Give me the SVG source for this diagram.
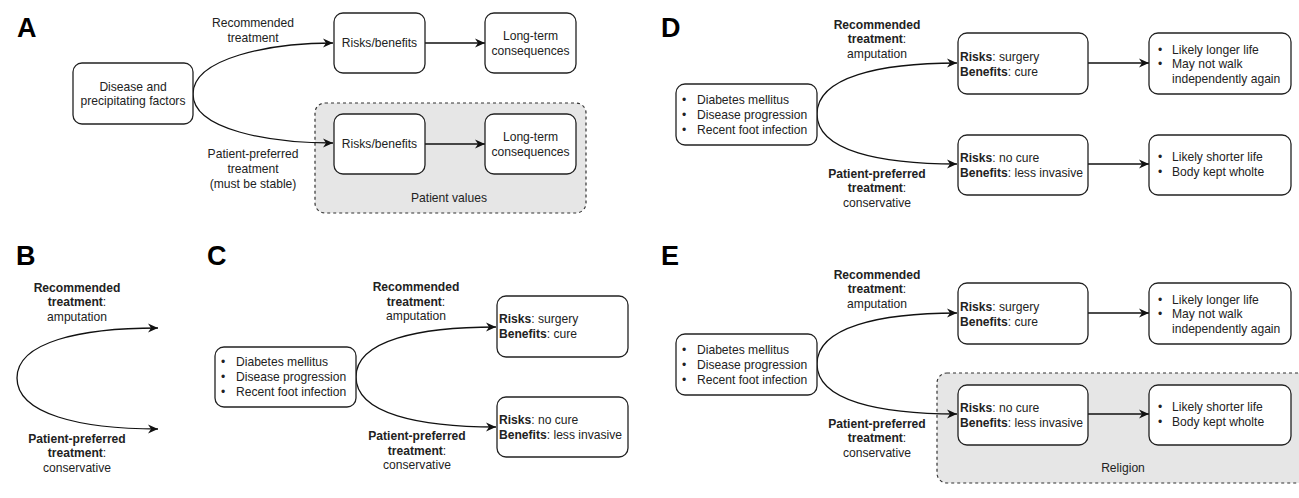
<svg xmlns="http://www.w3.org/2000/svg" width="1299" height="498" viewBox="0 0 1299 498">
<style>
text{font-family:"Liberation Sans",Arial,sans-serif;font-size:12.1px;fill:#222}
.lbl{font-size:27px;font-weight:bold;fill:#000}
.c{text-anchor:middle}
.b{font-weight:bold}
.box{fill:#fff;stroke:#222;stroke-width:1.3}
.grp{fill:#e6e6e6;stroke:#333;stroke-width:1.2;stroke-dasharray:3,3}
.edge{fill:none;stroke:#111;stroke-width:1.3;marker-end:url(#ah)}
</style>
<defs>
<marker id="ah" markerUnits="userSpaceOnUse" markerWidth="12" markerHeight="10" refX="10" refY="5" orient="auto">
<path d="M0,0.5 L10,5 L0,9.5 L3,5 Z" fill="#111"/>
</marker>
</defs>
<rect width="1299" height="498" fill="#fff"/>

<!-- panel labels -->
<text class="lbl" x="17" y="37">A</text>
<text class="lbl" x="16" y="265">B</text>
<text class="lbl" x="207" y="265">C</text>
<text class="lbl" x="661" y="37">D</text>
<text class="lbl" x="661" y="265">E</text>

<!-- group boxes -->
<g id="patient-values">
<rect class="grp" x="315" y="103" width="271" height="110" rx="10"/>
<text class="c" x="449" y="202">Patient values</text>
</g>
<g id="religion">
<rect class="grp" x="937" y="373" width="380" height="110" rx="10"/>
<text class="c" x="1123" y="472">Religion</text>
</g>

<!-- connectors -->
<g id="connectors">
<path class="edge" d="M193,94 C193,58 270,43 333,43"/>
<path class="edge" d="M193,94 C193,130 270,143 333,143"/>
<path class="edge" d="M425,43 L485,43"/>
<path class="edge" d="M425,144 L485,144"/>
<path class="edge" d="M17,378 C17,342 80,328 158,328"/>
<path class="edge" d="M17,378 C17,414 80,429 158,429"/>
<path class="edge" d="M356,377 C356,340 420,327 496,327"/>
<path class="edge" d="M356,377 C356,414 420,427 496,427"/>
<path class="edge" d="M817,114 C817,77 880,63 957,63"/>
<path class="edge" d="M817,114 C817,151 880,164 957,164"/>
<path class="edge" d="M1088,63 L1149,63"/>
<path class="edge" d="M1088,164 L1149,164"/>
<path class="edge" d="M817,364 C817,327 880,313 957,313"/>
<path class="edge" d="M817,364 C817,401 880,414 957,414"/>
<path class="edge" d="M1088,313 L1149,313"/>
<path class="edge" d="M1088,414 L1149,414"/>
</g>

<!-- edge labels A -->
<g id="labels-A">
<text class="c" x="253" y="27">Recommended</text>
<text class="c" x="253" y="42">treatment</text>
<text class="c" x="253" y="158">Patient-preferred</text>
<text class="c" x="253" y="173">treatment</text>
<text class="c" x="253" y="188">(must be stable)</text>
</g>

<!-- Panel A nodes -->
<g id="A-disease">
<rect class="box" x="73" y="63" width="120" height="61" rx="9"/>
<text class="c" x="133" y="91">Disease and</text>
<text class="c" x="133" y="105">precipitating factors</text>
</g>
<g id="A-risks1">
<rect class="box" x="334" y="13" width="91" height="60" rx="9"/>
<text class="c" x="379.5" y="47">Risks/benefits</text>
</g>
<g id="A-long1">
<rect class="box" x="485" y="13" width="91" height="60" rx="9"/>
<text class="c" x="530.5" y="40">Long-term</text>
<text class="c" x="530.5" y="55">consequences</text>
</g>
<g id="A-risks2">
<rect class="box" x="334" y="114" width="91" height="60" rx="9"/>
<text class="c" x="379.5" y="148">Risks/benefits</text>
</g>
<g id="A-long2">
<rect class="box" x="485" y="114" width="91" height="60" rx="9"/>
<text class="c" x="530.5" y="141">Long-term</text>
<text class="c" x="530.5" y="156">consequences</text>
</g>

<!-- Panel B labels -->
<g id="labels-B">
<text class="c b" x="77" y="292">Recommended</text>
<text class="c" x="77" y="306"><tspan class="b">treatment</tspan>:</text>
<text class="c" x="77" y="321">amputation</text>
<text class="c b" x="77" y="443">Patient-preferred</text>
<text class="c" x="77" y="457"><tspan class="b">treatment</tspan>:</text>
<text class="c" x="77" y="472">conservative</text>
</g>

<!-- Panel C -->
<g id="labels-C">
<text class="c b" x="416" y="291">Recommended</text>
<text class="c" x="416" y="306"><tspan class="b">treatment</tspan>:</text>
<text class="c" x="416" y="320">amputation</text>
<text class="c b" x="417" y="440">Patient-preferred</text>
<text class="c" x="417" y="455"><tspan class="b">treatment</tspan>:</text>
<text class="c" x="417" y="469">conservative</text>
</g>
<g id="C-factors">
<rect class="box" x="215" y="347" width="141" height="60" rx="9"/>
<text x="221" y="366">•</text><text x="236" y="366">Diabetes mellitus</text>
<text x="221" y="381">•</text><text x="236" y="381">Disease progression</text>
<text x="221" y="396">•</text><text x="236" y="396">Recent foot infection</text>
</g>
<g id="C-rec">
<rect class="box" x="497" y="296" width="131" height="61" rx="9"/>
<text x="499" y="323"><tspan class="b">Risks</tspan>: surgery</text>
<text x="499" y="338"><tspan class="b">Benefits</tspan>: cure</text>
</g>
<g id="C-pref">
<rect class="box" x="497" y="397" width="131" height="60" rx="9"/>
<text x="499" y="424"><tspan class="b">Risks</tspan>: no cure</text>
<text x="499" y="439"><tspan class="b">Benefits</tspan>: less invasive</text>
</g>

<!-- Panel D -->
<g id="labels-D">
<text class="c b" x="877" y="29">Recommended</text>
<text class="c" x="877" y="43"><tspan class="b">treatment</tspan>:</text>
<text class="c" x="877" y="58">amputation</text>
<text class="c b" x="877" y="178">Patient-preferred</text>
<text class="c" x="877" y="192"><tspan class="b">treatment</tspan>:</text>
<text class="c" x="877" y="207">conservative</text>
</g>
<g id="D-factors">
<rect class="box" x="676" y="84" width="141" height="61" rx="9"/>
<text x="682" y="104">•</text><text x="697" y="104">Diabetes mellitus</text>
<text x="682" y="119">•</text><text x="697" y="119">Disease progression</text>
<text x="682" y="134">•</text><text x="697" y="134">Recent foot infection</text>
</g>
<g id="D-rec">
<rect class="box" x="958" y="33" width="130" height="61" rx="9"/>
<text x="960" y="61"><tspan class="b">Risks</tspan>: surgery</text>
<text x="960" y="76"><tspan class="b">Benefits</tspan>: cure</text>
</g>
<g id="D-pref">
<rect class="box" x="958" y="135" width="130" height="60" rx="9"/>
<text x="960" y="162"><tspan class="b">Risks</tspan>: no cure</text>
<text x="960" y="177"><tspan class="b">Benefits</tspan>: less invasive</text>
</g>
<g id="D-rec-out">
<rect class="box" x="1149" y="33" width="142" height="61" rx="9"/>
<text x="1158" y="54">•</text><text x="1172" y="54">Likely longer life</text>
<text x="1158" y="68">•</text><text x="1172" y="68">May not walk</text>
<text x="1172" y="83">independently again</text>
</g>
<g id="D-pref-out">
<rect class="box" x="1149" y="135" width="142" height="60" rx="9"/>
<text x="1158" y="161">•</text><text x="1172" y="161">Likely shorter life</text>
<text x="1158" y="176">•</text><text x="1172" y="176">Body kept wholte</text>
</g>

<!-- Panel E -->
<g id="labels-E">
<text class="c b" x="877" y="279">Recommended</text>
<text class="c" x="877" y="293"><tspan class="b">treatment</tspan>:</text>
<text class="c" x="877" y="308">amputation</text>
<text class="c b" x="877" y="428">Patient-preferred</text>
<text class="c" x="877" y="442"><tspan class="b">treatment</tspan>:</text>
<text class="c" x="877" y="457">conservative</text>
</g>
<g id="E-factors">
<rect class="box" x="676" y="334" width="141" height="61" rx="9"/>
<text x="682" y="354">•</text><text x="697" y="354">Diabetes mellitus</text>
<text x="682" y="369">•</text><text x="697" y="369">Disease progression</text>
<text x="682" y="384">•</text><text x="697" y="384">Recent foot infection</text>
</g>
<g id="E-rec">
<rect class="box" x="958" y="283" width="130" height="61" rx="9"/>
<text x="960" y="311"><tspan class="b">Risks</tspan>: surgery</text>
<text x="960" y="326"><tspan class="b">Benefits</tspan>: cure</text>
</g>
<g id="E-pref">
<rect class="box" x="958" y="385" width="130" height="60" rx="9"/>
<text x="960" y="412"><tspan class="b">Risks</tspan>: no cure</text>
<text x="960" y="427"><tspan class="b">Benefits</tspan>: less invasive</text>
</g>
<g id="E-rec-out">
<rect class="box" x="1149" y="283" width="142" height="61" rx="9"/>
<text x="1158" y="304">•</text><text x="1172" y="304">Likely longer life</text>
<text x="1158" y="318">•</text><text x="1172" y="318">May not walk</text>
<text x="1172" y="333">independently again</text>
</g>
<g id="E-pref-out">
<rect class="box" x="1149" y="385" width="142" height="60" rx="9"/>
<text x="1158" y="411">•</text><text x="1172" y="411">Likely shorter life</text>
<text x="1158" y="426">•</text><text x="1172" y="426">Body kept wholte</text>
</g>
</svg>
